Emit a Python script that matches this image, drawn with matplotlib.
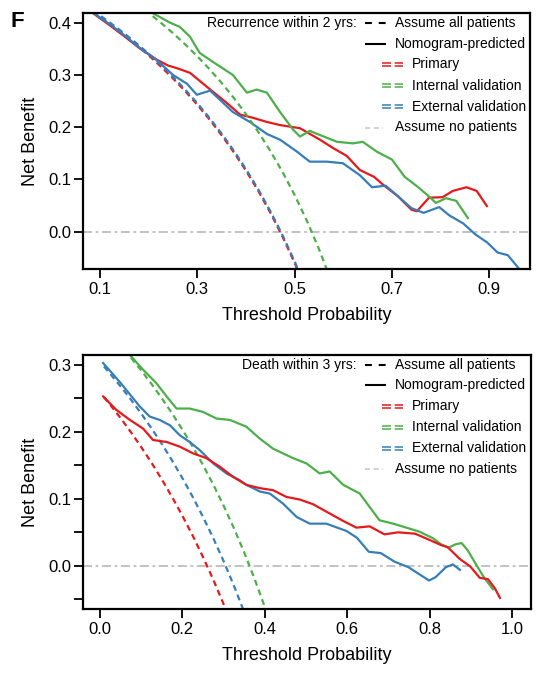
import matplotlib
matplotlib.use("Agg")
import matplotlib.pyplot as plt

plt.rcParams['font.family'] = ['Liberation Sans', 'DejaVu Sans']
plt.rcParams['lines.solid_joinstyle'] = 'round'
plt.rcParams['lines.dash_joinstyle'] = 'round'

RED = '#e41a1c'
GREEN = '#4daf4a'
BLUE = '#377eb8'
GREY = '#bdbdbd'

# ---------------- panel 1: recurrence within 2 yrs ----------------
top_all_x = [0.05, 0.075, 0.10, 0.125, 0.15, 0.175, 0.20, 0.225, 0.25, 0.275, 0.30,
             0.325, 0.35, 0.375, 0.40, 0.425, 0.45, 0.475, 0.50, 0.525]
top_all_red = [0.442, 0.427, 0.411, 0.394, 0.3765, 0.3576, 0.3375, 0.3161, 0.2933, 0.269,
               0.2429, 0.2148, 0.1846, 0.152, 0.1167, 0.0783, 0.0364, -0.0095, -0.06, -0.1158]
top_all_blue = [0.445, 0.430, 0.414, 0.397, 0.3795, 0.3606, 0.3405, 0.3191, 0.2963, 0.272,
                0.2459, 0.2178, 0.1876, 0.155, 0.1197, 0.0813, 0.0394, -0.0065, -0.057, -0.1128]
top_all_green_x = [0.175, 0.20, 0.225, 0.25, 0.275, 0.30, 0.325, 0.35, 0.375, 0.40,
                   0.425, 0.45, 0.475, 0.50, 0.525, 0.55, 0.575]
top_all_green = [0.4364, 0.4187, 0.400, 0.380, 0.3586, 0.3357, 0.3111, 0.2846, 0.256, 0.225,
                 0.1913, 0.1545, 0.1143, 0.070, 0.021, -0.0333, -0.0941]

top_red_x = [0.07, 0.086, 0.12, 0.15, 0.18, 0.217, 0.24, 0.258, 0.285, 0.32, 0.361, 0.388,
             0.414, 0.443, 0.47, 0.511, 0.552, 0.579, 0.607, 0.634, 0.663, 0.684, 0.712,
             0.74, 0.751, 0.776, 0.804, 0.825, 0.853, 0.874, 0.895]
top_red_y = [0.428, 0.418, 0.395, 0.374, 0.352, 0.329, 0.318, 0.313, 0.304, 0.277, 0.246,
             0.224, 0.218, 0.210, 0.204, 0.198, 0.176, 0.160, 0.145, 0.118, 0.105, 0.088,
             0.068, 0.042, 0.039, 0.065, 0.066, 0.078, 0.085, 0.078, 0.049]
top_blue_x = [0.07, 0.086, 0.12, 0.15, 0.18, 0.217, 0.25, 0.279, 0.299, 0.326, 0.347, 0.373,
              0.408, 0.443, 0.47, 0.505, 0.531, 0.566, 0.599, 0.634, 0.659, 0.687, 0.712,
              0.74, 0.765, 0.797, 0.818, 0.846, 0.871, 0.896, 0.917, 0.938, 0.962]
top_blue_y = [0.429, 0.419, 0.397, 0.376, 0.353, 0.328, 0.300, 0.283, 0.262, 0.270, 0.252,
              0.229, 0.210, 0.187, 0.176, 0.153, 0.134, 0.134, 0.131, 0.108, 0.085, 0.088,
              0.068, 0.045, 0.036, 0.047, 0.031, 0.016, -0.005, -0.021, -0.040, -0.045, -0.072]
top_green_x = [0.19, 0.209, 0.244, 0.264, 0.285, 0.305, 0.332, 0.373, 0.402, 0.422, 0.443,
               0.47, 0.497, 0.511, 0.531, 0.552, 0.587, 0.62, 0.64, 0.669, 0.70, 0.726,
               0.754, 0.779, 0.79, 0.811, 0.832, 0.856]
top_green_y = [0.43, 0.418, 0.40, 0.392, 0.373, 0.342, 0.325, 0.30, 0.266, 0.272, 0.266,
               0.229, 0.195, 0.182, 0.193, 0.185, 0.172, 0.169, 0.172, 0.153, 0.138, 0.105,
               0.085, 0.065, 0.055, 0.064, 0.059, 0.026]

# ---------------- panel 2: death within 3 yrs ----------------
bot_all_x = [0.01, 0.05, 0.075, 0.10, 0.125, 0.15, 0.175, 0.20, 0.225, 0.25, 0.275, 0.30,
             0.325, 0.35, 0.375, 0.40, 0.425]
bot_all_red = [0.2525, 0.2211, 0.200, 0.1778, 0.1543, 0.1294, 0.103, 0.075, 0.0452, 0.0133,
               -0.0207, -0.0571, -0.0963, None, None, None, None]
bot_all_blue = [0.298, 0.2684, 0.2486, 0.2278, 0.2057, 0.1824, 0.1576, 0.1312, 0.1032, 0.0733,
                0.0414, 0.0071, -0.0296, -0.0692, -0.112, None, None]
bot_all_green = [0.3566, 0.3295, 0.3113, 0.2922, 0.272, 0.2506, 0.2279, 0.2037, 0.1781, 0.1507,
                 0.1214, 0.09, 0.0563, 0.02, -0.0192, -0.0617, -0.1078]

bot_red_x = [0.008, 0.040, 0.073, 0.105, 0.129, 0.162, 0.194, 0.226, 0.258, 0.291, 0.323,
             0.355, 0.388, 0.420, 0.452, 0.485, 0.517, 0.549, 0.590, 0.622, 0.654, 0.690,
             0.723, 0.764, 0.798, 0.827, 0.843, 0.873, 0.898, 0.921, 0.941, 0.957, 0.970]
bot_red_y = [0.253, 0.233, 0.218, 0.205, 0.188, 0.185, 0.178, 0.168, 0.161, 0.148, 0.133,
             0.121, 0.116, 0.113, 0.103, 0.099, 0.092, 0.081, 0.067, 0.057, 0.059, 0.047,
             0.050, 0.048, 0.039, 0.031, 0.028, 0.010, -0.001, -0.018, -0.020, -0.033, -0.048]
bot_blue_x = [0.008, 0.048, 0.097, 0.121, 0.145, 0.170, 0.194, 0.218, 0.242, 0.275, 0.307,
              0.339, 0.355, 0.388, 0.412, 0.444, 0.477, 0.509, 0.549, 0.598, 0.623, 0.652,
              0.681, 0.715, 0.748, 0.773, 0.798, 0.814, 0.839, 0.856, 0.873]
bot_blue_y = [0.303, 0.275, 0.238, 0.223, 0.218, 0.210, 0.195, 0.185, 0.173, 0.153, 0.138,
              0.128, 0.121, 0.111, 0.108, 0.093, 0.073, 0.063, 0.063, 0.052, 0.042, 0.021,
              0.019, 0.006, -0.002, -0.012, -0.022, -0.017, -0.002, 0.002, -0.006]
bot_green_x = [0.05, 0.073, 0.105, 0.137, 0.162, 0.186, 0.218, 0.250, 0.283, 0.315, 0.355,
               0.388, 0.420, 0.468, 0.501, 0.533, 0.557, 0.590, 0.630, 0.654, 0.678, 0.711,
               0.743, 0.775, 0.808, 0.825, 0.845, 0.862, 0.877, 0.892, 0.913, 0.933, 0.953]
bot_green_y = [0.33, 0.315, 0.293, 0.273, 0.253, 0.235, 0.235, 0.230, 0.220, 0.218, 0.208,
               0.190, 0.175, 0.161, 0.153, 0.138, 0.141, 0.121, 0.108, 0.088, 0.068, 0.063,
               0.057, 0.051, 0.041, 0.033, 0.027, 0.032, 0.034, 0.023, 0.001, -0.019, -0.035]

legend_labels = ['Assume all patients', 'Nomogram-predicted', 'Primary',
                 'Internal validation', 'External validation', 'Assume no patients']

W, H = 539, 690
fig = plt.figure(figsize=(W / 100, H / 100), dpi=100)


def px_axes(left, top, right, bottom):
    return fig.add_axes([left / W, 1 - bottom / H, (right - left) / W, (bottom - top) / H])


DASH = (0, (2.7, 1.9))


def curves(ax, all_x, all_sets, model_sets):
    ax.axhline(0, color=GREY, lw=1.3, ls=(0, (5, 2, 1.5, 2)), zorder=1)
    for ys, c in all_sets:
        xs = [x for x, y in zip(all_x, ys) if y is not None]
        ys = [y for y in ys if y is not None]
        ax.plot(xs, ys, color=c, lw=1.6, ls=DASH)
    for xs, ys, c in model_sets:
        ax.plot(xs, ys, color=c, lw=1.6)


def style(ax):
    for s in ax.spines.values():
        s.set_linewidth(1.6)
    ax.tick_params(length=6.5, width=1.3, labelsize=12, pad=2)
    ax.tick_params(axis='x', pad=3)
    ax.set_xlabel('Threshold Probability', fontsize=13, labelpad=7)
    ax.set_ylabel('Net Benefit', fontsize=13)
    ax.yaxis.set_label_coords(-0.100, 0.5)


def key(ax, title, axw, axh):
    def fx(dx):
        return dx / axw

    def fy(dy):
        return 1 - dy / axh

    rows = [9.5, 30.2, 51, 72.2, 93.5, 114.2]
    tr = ax.transAxes
    ax.text(fx(273.7), fy(rows[0]), title, transform=tr, ha='right', va='center', fontsize=10)
    ax.plot([fx(281.7), fx(302.7)], [fy(rows[0])] * 2, transform=tr, color='black',
            lw=1.5, ls=(0, (3.3, 3.3)), solid_capstyle='butt', clip_on=False)
    ax.plot([fx(281.7), fx(302.7)], [fy(rows[1])] * 2, transform=tr, color='black',
            lw=1.5, solid_capstyle='butt', clip_on=False)
    for r, c in zip(rows[2:5], [RED, GREEN, BLUE]):
        for off in (-1.5, 1.5):
            ax.plot([fx(298.4), fx(320)], [fy(r + off)] * 2, transform=tr,
                    color=c, lw=1.1, ls=(0, (5.9, 2.4)), clip_on=False)
    ax.plot([fx(281.7), fx(299.7)], [fy(rows[5])] * 2, transform=tr, color='#c8c8c8',
            lw=1.2, ls=(0, (3, 2.2)), clip_on=False)
    for i, lab in enumerate(legend_labels):
        x0 = 328.4 if 2 <= i <= 4 else 311.7
        ax.text(fx(x0), fy(rows[i]), lab, transform=tr, ha='left', va='center', fontsize=10)


ax1 = px_axes(83.3, 13.3, 530, 269)
curves(ax1, top_all_x, [(top_all_red, RED), (top_all_blue, BLUE)],
       [(top_red_x, top_red_y, RED), (top_green_x, top_green_y, GREEN),
        (top_blue_x, top_blue_y, BLUE)])
ax1.plot(top_all_green_x, top_all_green, color=GREEN, lw=1.6, ls=DASH)
ax1.set_xlim(0.0657, 0.9836)
ax1.set_ylim(-0.0715, 0.418)
ax1.set_xticks([0.1, 0.3, 0.5, 0.7, 0.9])
ax1.set_yticks([0.0, 0.1, 0.2, 0.3, 0.4])
ax1.set_yticklabels(['0.0', '0.1', '0.2', '0.3', '0.4'])
style(ax1)
key(ax1, 'Recurrence within 2 yrs:', 446.7, 255.7)

ax2 = px_axes(83.3, 355, 530.5, 609.3)
curves(ax2, bot_all_x, [(bot_all_red, RED), (bot_all_blue, BLUE), (bot_all_green, GREEN)],
       [(bot_green_x, bot_green_y, GREEN), (bot_blue_x, bot_blue_y, BLUE),
        (bot_red_x, bot_red_y, RED)])
ax2.set_xlim(-0.04, 1.044)
ax2.set_ylim(-0.065, 0.315)
ax2.set_xticks([0.0, 0.2, 0.4, 0.6, 0.8, 1.0])
ax2.set_xticklabels(['0.0', '0.2', '0.4', '0.6', '0.8', '1.0'])
ax2.set_yticks([-0.05, 0.0, 0.05, 0.1, 0.15, 0.2, 0.25, 0.3])
ax2.set_yticklabels(['', '0.0', '', '0.1', '', '0.2', '', '0.3'])
style(ax2)
key(ax2, 'Death within 3 yrs:', 447.2, 254.3)

fig.text(11 / W, 1 - 27 / H, 'F', fontsize=16, fontweight='bold', ha='left', va='baseline')

fig.savefig('out.png', dpi=100)
